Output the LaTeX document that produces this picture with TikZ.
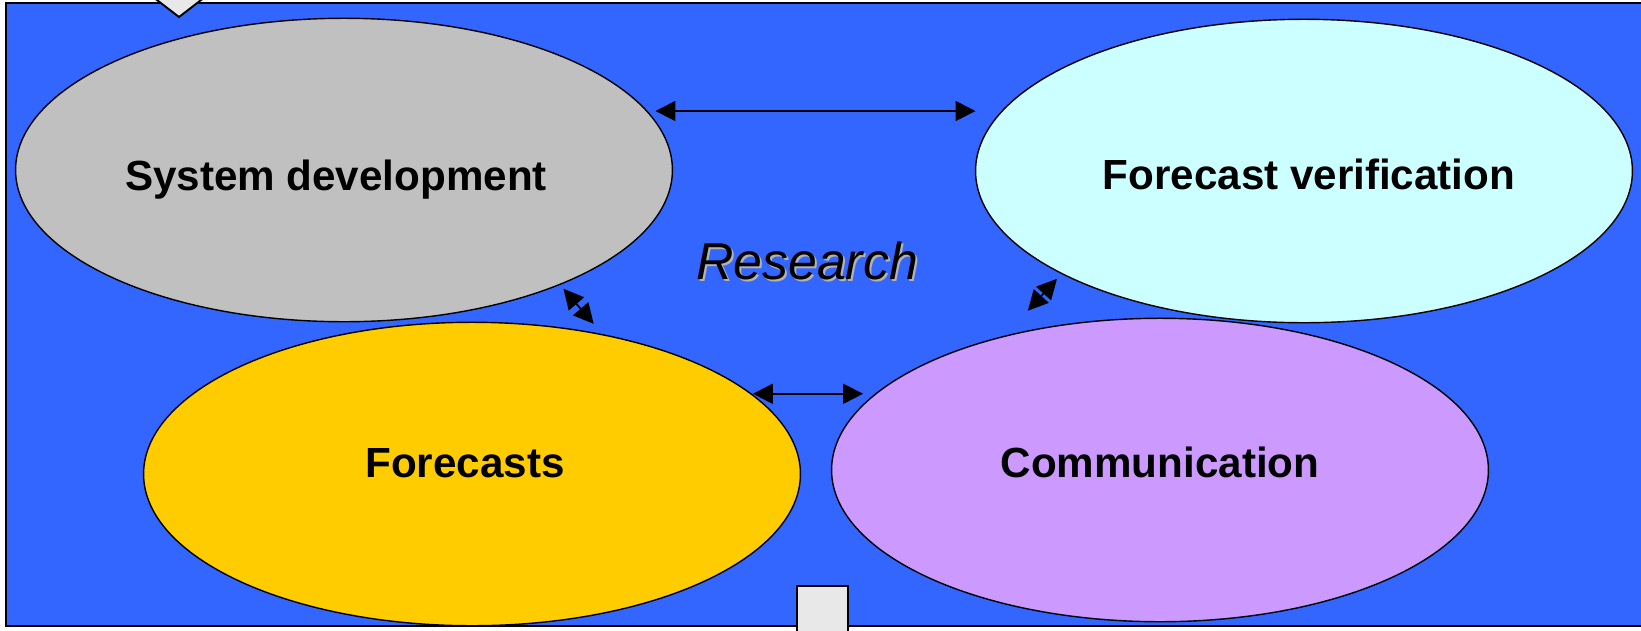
\documentclass[tikz,border=0pt]{standalone}
\usepackage{fontspec}
\setmainfont{Liberation Sans}
\usetikzlibrary{arrows.meta,shapes.geometric}
\begin{document}
\begin{tikzpicture}[x = 0.02cm, y = -0.02cm,
  oval/.style = {ellipse, draw = black, line width = 0.8pt, minimum width = 13.14cm, minimum height = 6.07cm, inner sep = 0pt},
  caption/.style = {anchor = base, inner sep = 0pt, font = \fontsize{24}{29}\selectfont\bfseries},
  research/.style = {anchor = base, inner sep = 0pt, font = \fontsize{29.5}{35}\selectfont\itshape},
  twoway/.style = {{Triangle[length = 0.4cm, width = 0.4cm]}-{Triangle[length = 0.4cm, width = 0.4cm]}, line width = 1pt},
  tab/.style = {fill = tabgray, draw = black, line width = 1.1pt}]
\definecolor{backblue}{RGB}{51,102,255}
\definecolor{tabgray}{RGB}{232,232,232}
\definecolor{shadegray}{RGB}{178,178,178}
\definecolor{sysgray}{RGB}{192,192,192}
\definecolor{verifcyan}{RGB}{204,255,255}
\definecolor{fcyellow}{RGB}{255,204,0}
\definecolor{commlilac}{RGB}{204,153,255}
\useasboundingbox (0,0) rectangle (1641,630);
\clip (0,0) rectangle (1641,630);
\draw [fill = backblue, draw = black, line width = 1.2pt] (6,3) rectangle (1660,626);
\draw [tab] (153,-3) -- (179,17) -- (205,-3);
\node [oval, fill = sysgray] (sys) at (344,170) {};
\node [oval, fill = verifcyan] (verif) at (1304,171) {};
\node [oval, fill = fcyellow] (fc) at (472,474) {};
\node [oval, fill = commlilac] (comm) at (1160,470) {};
\draw [tab] (797,650) |- (848,586) -- (848,650);
\node [caption] (syslabel) at (336,190) {System development};
\node [caption] (veriflabel) at (1309,189) {Forecast verification};
\node [caption] (fclabel) at (465,477) {Forecasts};
\node [caption] (commlabel) at (1160,477) {Communication};
\node [research, text = shadegray] at (809,281) {Research};
\node [research] (research) at (807,279) {Research};
\draw [twoway, shorten <= 0.16cm, shorten >= 0.5cm] (sys.11) -- (sys.11 -| verif.169.2);
\draw [twoway, shorten <= 0.02cm, shorten >= 0.24cm] (fc.16.3) -- (fc.16.3 -| comm.165);
\draw [twoway, shorten <= 0.1cm, shorten >= 0.27cm] (sys.-28.35) -- (fc.47.3);
\draw [twoway, shorten <= 0.13cm, shorten >= 0.67cm] (verif.-157.2) -- (comm.139.8);
\end{tikzpicture}
\end{document}
